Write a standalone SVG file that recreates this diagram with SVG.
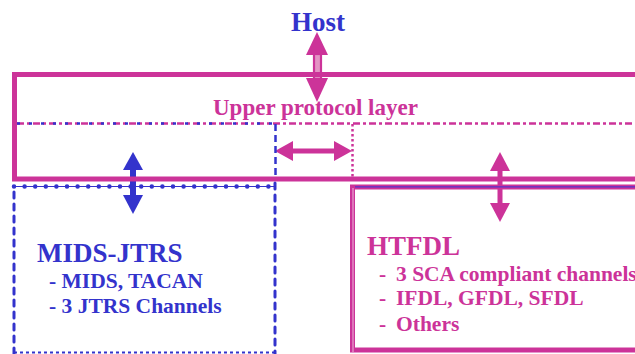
<svg xmlns="http://www.w3.org/2000/svg" width="635" height="354" viewBox="0 0 635 354">
<style>
  text { font-family: "Liberation Serif", "Times New Roman", serif; font-weight: bold; }
  .blue { fill: #3333CC; }
  .mag { fill: #CC3399; }
  .big { font-size: 27px; }
  .sub { font-size: 21.5px; }
  .sub2 { font-size: 21.5px; }
  .magStroke { fill: none; stroke: #CC3399; }
  .blueStroke { fill: none; stroke: #3333CC; }
</style>
<rect x="0" y="0" width="635" height="354" fill="#ffffff"/>

<g id="connectors">
  <!-- Host <-> upper protocol layer -->
  <g id="arrow-host">
    <rect x="314" y="54" width="7" height="25" fill="#E394C4" stroke="#CC3399" stroke-width="2.2"/>
    <polygon points="317,32 306,55 328,55" fill="#CC3399"/>
    <polygon points="306,78 328,78 317,102" fill="#CC3399"/>
  </g>
  <!-- MIDS-JTRS <-> upper layer -->
  <g id="arrow-mids">
    <rect x="130" y="169" width="6" height="27" fill="#3333CC"/>
    <polygon points="133,152 123,170 143,170" fill="#3333CC"/>
    <polygon points="123,195 143,195 133,214" fill="#3333CC"/>
  </g>
  <!-- HTFDL <-> upper layer -->
  <g id="arrow-htfdl">
    <rect x="497.5" y="170" width="5" height="34" fill="#CC3399"/>
    <polygon points="500,152 490,171 510,171" fill="#CC3399"/>
    <polygon points="490,203 510,203 500,222" fill="#CC3399"/>
  </g>
  <!-- horizontal double arrow -->
  <g id="arrow-between">
    <rect x="292" y="148.5" width="43" height="5" fill="#CC3399"/>
    <polygon points="275,151 293,141 293,161" fill="#CC3399"/>
    <polygon points="352,151 334,141 334,161" fill="#CC3399"/>
  </g>
</g>

<g id="host">
  <text x="291" y="31" class="blue big">Host</text>
</g>

<g id="upper-protocol-layer">
  <rect x="14.5" y="74.5" width="640" height="104.5" class="magStroke" stroke-width="5"/>
  <text x="213" y="115" class="mag" font-size="23">Upper protocol layer</text>
  <line x1="17" y1="123.5" x2="635" y2="123.5" class="magStroke" stroke-width="2.5" stroke-dasharray="7 3 3 3"/>
  <line x1="17" y1="123.5" x2="272" y2="123.5" class="blueStroke" stroke-width="2.5" stroke-dasharray="3 9"/>
  <line x1="352.5" y1="124" x2="352.5" y2="177" class="magStroke" stroke-width="2.5" stroke-dasharray="2.5 2.5"/>
  <line x1="275.5" y1="124" x2="275.5" y2="177" class="blueStroke" stroke-width="2.5" stroke-dasharray="7 4"/>
</g>

<g id="mids-jtrs">
  <line x1="14" y1="186.5" x2="275" y2="186.5" class="blueStroke" stroke-width="1.2"/>
  <line x1="14" y1="186.5" x2="275" y2="186.5" class="blueStroke" stroke-width="4.5" stroke-linecap="round" stroke-dasharray="0 10.6"/>
  <line x1="14" y1="192" x2="14" y2="354" class="blueStroke" stroke-width="3" stroke-linecap="round" stroke-dasharray="6 6"/>
  <line x1="275" y1="183" x2="275" y2="354" class="blueStroke" stroke-width="3" stroke-linecap="round" stroke-dasharray="6 6"/>
  <line x1="14" y1="352.5" x2="275" y2="352.5" class="blueStroke" stroke-width="2" stroke-dasharray="3 3"/>
  <text x="37" y="262" class="blue big">MIDS-JTRS</text>
  <text x="49" y="288" class="blue sub">- MIDS, TACAN</text>
  <text x="49" y="313" class="blue sub">- 3 JTRS Channels</text>
</g>

<g id="htfdl">
  <rect x="352.5" y="187" width="300" height="163" class="magStroke" stroke-width="5"/>
  <line x1="353" y1="188" x2="353" y2="352" stroke="#EFB8DA" stroke-width="1"/>
  <line x1="355" y1="186.8" x2="635" y2="186.8" stroke="#5533CC" stroke-width="1.2"/>
  <text x="367" y="255" class="mag big">HTFDL</text>
  <text y="281" class="mag sub2"><tspan x="379">-</tspan><tspan x="396">3 SCA compliant channels</tspan></text>
  <text y="305" class="mag sub2"><tspan x="379">-</tspan><tspan x="396">IFDL, GFDL, SFDL</tspan></text>
  <text y="331" class="mag sub2"><tspan x="379">-</tspan><tspan x="396">Others</tspan></text>
</g>
</svg>
